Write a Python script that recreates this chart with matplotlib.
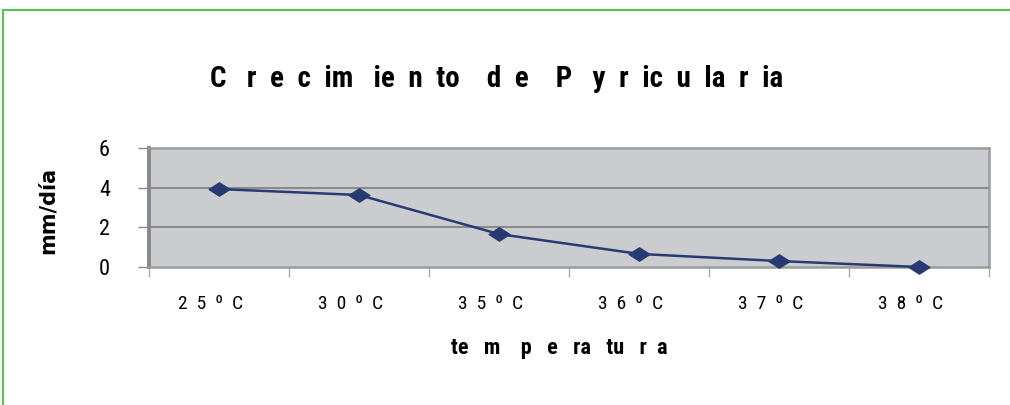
import matplotlib
matplotlib.use("Agg")
import matplotlib.pyplot as plt
from matplotlib import font_manager as fm
from matplotlib.lines import Line2D
from matplotlib.path import Path
from matplotlib.transforms import ScaledTranslation

# growth rate (mm/day) by incubation temperature
temperaturas = ["2  5  º  C", "3  0  º  C", "3  5  º  C", "3  6  º  C", "3  7  º  C", "3  8  º  C"]
crecimiento = [3.93, 3.63, 1.66, 0.66, 0.30, 0.0]
y_ticks = [0, 2, 4, 6]

titulo = "C   r  e  c  im   ie  n  to    d  e    P   y  r  ic  u  la  r  ia"
eje_x = "te   m    p   e   ra   tu   r  a"
eje_y = "mm/día"


def pick_family(prefs, bold):
    have = set()
    for f in fm.fontManager.ttflist:
        w = f.weight if isinstance(f.weight, int) else (700 if "bold" in str(f.weight) else 400)
        have.add((f.name, w >= 600))
    for p in prefs:
        if (p, bold) in have:
            return p
    return "Liberation Sans"


narrow = ["Roboto Condensed", "Fira Sans Condensed", "Archivo Narrow", "PT Sans Narrow",
          "IBM Plex Sans Condensed", "Liberation Sans Narrow", "Liberation Sans"]
fam_bold = [pick_family(narrow, True), "DejaVu Sans"]
fam_reg = [pick_family(narrow, False), "DejaVu Sans"]

plt.rcParams["font.family"] = fam_reg

W, H = 1010, 405
fig = plt.figure(figsize=(W / 100, H / 100), dpi=100)
fig.patch.set_facecolor("white")

# green frame along the top and left edges
green = "#55c255"
fig.add_artist(Line2D([3 / W, 1.0], [1 - 10 / H, 1 - 10 / H], color=green, lw=1.5, transform=fig.transFigure))
fig.add_artist(Line2D([3 / W, 3 / W], [0, 1 - 10 / H], color=green, lw=1.5, transform=fig.transFigure))

ax = fig.add_axes([149 / W, (H - 267) / H, (989 - 149) / W, (267 - 148) / H])
ax.set_facecolor("#cbcccf")

x = list(range(len(temperaturas)))
diamond = Path([(-1, 0), (0, 0.64), (1, 0), (0, -0.64), (-1, 0)],
               [Path.MOVETO, Path.LINETO, Path.LINETO, Path.LINETO, Path.CLOSEPOLY])
ax.plot(x, crecimiento, color="#283a72", lw=1.8, marker=diamond, markersize=15,
        markerfacecolor="#283a72", markeredgecolor="#283a72", clip_on=False, zorder=3)

ax.set_xlim(-0.5, len(temperaturas) - 0.5)
ax.set_ylim(0, 6)

ax.set_yticks(y_ticks)
ax.set_yticklabels([str(v) for v in y_ticks], fontsize=16)
ax.tick_params(axis="y", direction="out", length=8, width=1, color="#888888", pad=20)
for v in y_ticks[1:-1]:
    ax.axhline(v, color="#8a8a8a", lw=1.5, zorder=1)

ax.set_xticks(x)
ax.set_xticklabels(temperaturas, fontsize=14)
ax.tick_params(axis="x", which="major", length=0, pad=20)
ax.set_xticks([i - 0.5 for i in range(len(temperaturas) + 1)], minor=True)
ax.tick_params(axis="x", which="minor", direction="out", length=7, width=1, color="#aaaaaa")
shift = ScaledTranslation(-8 / 100, 0, fig.dpi_scale_trans)
for lab in ax.get_xticklabels():
    lab.set_transform(lab.get_transform() + shift)

for side in ["top", "right", "bottom"]:
    ax.spines[side].set_color("#9a9c9c")
    ax.spines[side].set_linewidth(1.8)
ax.spines["left"].set_color("#888888")
ax.spines["left"].set_linewidth(2.8)

fig.text(497 / W, 1 - 87 / H, titulo, ha="center", va="baseline",
         fontsize=21, fontweight="bold", family=fam_bold)
fig.text(47.5 / W, 1 - 210 / H, eje_y, rotation=90, ha="center", va="center",
         fontsize=15, fontweight="bold", family=["DejaVu Sans"])
fig.text(559 / W, 1 - 354 / H, eje_x, ha="center", va="baseline",
         fontsize=16, fontweight="bold", family=fam_bold)

fig.savefig("out.png", dpi=100)
